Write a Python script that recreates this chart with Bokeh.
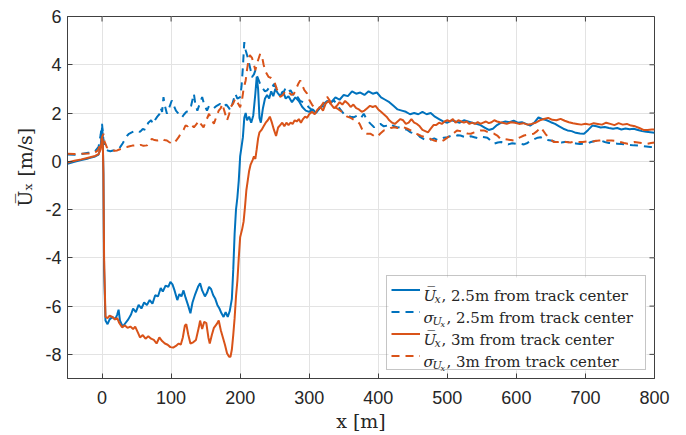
from bokeh.core.properties import value
from bokeh.embed import file_html
from bokeh.models import FixedTicker, Legend, LegendItem, Range1d
from bokeh.plotting import figure
from bokeh.resources import INLINE

# ---------------------------------------------------------------- data
# Mean streamwise velocity, 2.5 m from track center
blue_mean_x = [-50, -40, -30, -20, -10, -5, -2, 0, 1, 2, 3, 5, 8, 11, 15, 19, 22, 24, 26, 30,
               34, 38, 42, 45, 49, 53, 57, 61, 65, 69, 73, 77, 81, 85, 88, 92, 96, 99, 102, 105,
               109, 112, 115, 118, 121, 125, 128, 131, 135, 139, 142, 145, 149, 152, 155, 158, 161, 164, 167, 170,
               173, 176, 179, 182, 185, 188, 190, 192, 194, 196, 198, 200, 202, 204, 206, 208, 210, 213, 216, 219,
               222, 224, 226, 228, 230, 233, 236, 239, 242, 245, 248, 251, 254, 258, 262, 266, 270, 275, 280, 285,
               290, 295, 300, 305, 310, 315, 320, 326, 332, 338, 344, 350, 356, 362, 368, 374, 380, 386, 392, 398,
               404, 410, 416, 422, 428, 434, 440, 446, 452, 458, 464, 470, 476, 482, 488, 494, 500, 506, 512, 518,
               524, 530, 536, 542, 548, 554, 560, 566, 572, 578, 584, 590, 596, 602, 608, 614, 620, 626, 632, 638,
               644, 650, 656, 662, 668, 674, 680, 686, 692, 698, 704, 710, 716, 722, 728, 734, 740, 746, 752, 758,
               764, 770, 776, 782, 788, 794, 800]
blue_mean = [-0.10, -0.02, 0.05, 0.12, 0.20, 0.28, 0.60, 1.40, 1.10, -0.50, -4.50, -6.60, -6.75, -6.55, -6.45, -6.55, -6.35, -6.15, -6.60, -6.85,
             -6.70, -6.55, -6.35, -6.10, -6.25, -5.95, -6.10, -5.85, -5.95, -5.75, -5.90, -5.55, -5.60, -5.25, -5.40, -5.15, -5.20, -5.00, -5.10, -5.35,
             -5.75, -5.50, -5.60, -5.35, -5.65, -6.00, -6.30, -5.85, -5.50, -5.20, -5.05, -5.35, -5.60, -5.45, -5.20, -5.30, -5.55, -5.70, -5.95, -6.10,
             -6.30, -6.45, -6.25, -6.45, -6.20, -5.70, -4.50, -3.00, -2.00, -1.50, -0.80, 0.20, 0.60, 1.00, 1.80, 2.00, 1.70, 1.85, 1.60, 1.90,
             2.80, 3.50, 3.00, 1.80, 1.60, 2.20, 2.60, 2.75, 2.60, 2.90, 2.70, 3.00, 2.85, 2.70, 2.90, 2.60, 2.70, 2.45, 2.65, 2.50,
             2.25, 2.10, 2.05, 2.15, 2.00, 2.20, 2.35, 2.50, 2.45, 2.65, 2.55, 2.75, 2.70, 2.90, 2.80, 2.85, 2.75, 2.90, 2.80, 2.85,
             2.65, 2.55, 2.45, 2.30, 2.15, 2.10, 2.05, 1.95, 2.00, 1.95, 2.05, 1.95, 2.00, 1.85, 1.75, 1.65, 1.60, 1.70, 1.65, 1.60,
             1.70, 1.65, 1.60, 1.55, 1.50, 1.40, 1.30, 1.35, 1.50, 1.60, 1.65, 1.62, 1.68, 1.60, 1.62, 1.55, 1.48, 1.60, 1.82, 1.75,
             1.70, 1.62, 1.55, 1.45, 1.35, 1.28, 1.25, 1.18, 1.15, 1.14, 1.30, 1.48, 1.45, 1.40, 1.42, 1.38, 1.35, 1.38, 1.32, 1.36,
             1.33, 1.35, 1.30, 1.25, 1.22, 1.20, 1.18]

# Standard deviation, 2.5 m from track center
blue_std_x = [-50, -40, -30, -20, -10, -5, -2, 0, 2, 5, 8, 12, 16, 20, 24, 27, 30, 33, 36, 39,
              43, 47, 51, 55, 59, 63, 67, 71, 74, 77, 80, 83, 85, 87, 89, 91, 94, 97, 101, 104,
              107, 110, 113, 116, 119, 122, 126, 129, 131, 133, 135, 138, 141, 145, 148, 152, 155, 158, 162, 166,
              171, 175, 180, 184, 186, 189, 193, 196, 200, 202, 204, 206, 208, 210, 212, 215, 217, 220, 222, 225,
              229, 232, 236, 239, 243, 246, 249, 253, 258, 262, 266, 270, 273, 277, 281, 283, 287, 291, 295, 299,
              303, 307, 311, 315, 319, 323, 327, 332, 336, 340, 345, 350, 355, 360, 365, 370, 375, 379, 384, 389,
              394, 398, 403, 408, 413, 418, 423, 428, 432, 437, 442, 447, 452, 456, 461, 466, 471, 476, 481, 486,
              490, 495, 500, 505, 510, 515, 519, 524, 529, 534, 539, 544, 549, 554, 558, 563, 568, 573, 578, 582,
              588, 594, 600, 606, 611, 616, 621, 626, 631, 635, 640, 645, 650, 655, 660, 665, 670, 674, 680, 686,
              692, 698, 703, 708, 714, 718, 722, 728, 734, 740, 746, 752, 758, 764, 770, 776, 782, 788, 794, 800]
blue_std = [0.28, 0.27, 0.30, 0.35, 0.42, 0.60, 1.10, 1.55, 0.90, 0.50, 0.45, 0.42, 0.45, 0.45, 0.48, 0.62, 0.75, 0.90, 1.05, 1.14,
            1.20, 1.25, 1.28, 1.22, 1.34, 1.30, 1.60, 1.70, 1.55, 1.72, 1.85, 1.95, 2.20, 2.05, 2.66, 2.30, 1.97, 2.20, 2.52, 2.30,
            2.10, 2.00, 1.85, 1.83, 1.95, 2.05, 2.10, 2.30, 2.55, 2.80, 2.40, 2.10, 2.35, 2.66, 2.35, 2.10, 2.30, 2.24, 2.20, 2.30,
            2.38, 2.25, 2.35, 2.20, 2.10, 2.40, 2.80, 2.60, 2.66, 3.10, 3.90, 4.94, 4.60, 4.40, 4.18, 3.80, 3.49, 3.60, 3.77, 3.50,
            3.20, 3.05, 2.90, 2.94, 3.10, 3.05, 3.20, 3.00, 2.94, 2.80, 3.05, 2.90, 2.94, 2.75, 2.60, 2.67, 2.50, 2.45, 2.38, 2.25,
            2.15, 2.10, 2.05, 2.20, 2.30, 2.24, 2.35, 2.45, 2.52, 2.35, 2.15, 1.97, 1.90, 1.85, 1.83, 1.90, 1.80, 1.97, 1.70, 1.55,
            1.41, 1.50, 1.55, 1.45, 1.48, 1.55, 1.45, 1.40, 1.41, 1.35, 1.30, 1.20, 1.15, 1.14, 1.00, 0.92, 0.86, 0.90, 0.95, 0.88,
            0.93, 0.98, 1.00, 1.05, 1.02, 1.08, 1.07, 1.02, 0.98, 1.04, 1.00, 0.96, 1.02, 1.00, 0.98, 0.85, 0.73, 0.78, 0.80, 0.74,
            0.70, 0.75, 0.72, 0.73, 0.70, 0.76, 0.85, 0.92, 0.98, 1.00, 0.92, 0.88, 0.86, 0.82, 0.80, 0.78, 0.80, 0.80, 0.76, 0.74,
            0.72, 0.73, 0.74, 0.80, 0.84, 0.86, 0.86, 0.80, 0.76, 0.74, 0.73, 0.72, 0.70, 0.68, 0.66, 0.65, 0.63, 0.61, 0.59, 0.60]

# Mean streamwise velocity, 3 m from track center
orange_mean_x = [-50, -40, -30, -20, -10, -5, -2, 0, 1, 2, 3, 5, 8, 11, 15, 19, 22, 25, 29, 33,
                 37, 41, 45, 48, 52, 55, 59, 63, 67, 71, 75, 79, 83, 87, 91, 95, 99, 103, 107, 111,
                 114, 117, 120, 122, 125, 128, 132, 136, 140, 142, 145, 148, 151, 154, 156, 159, 162, 166, 169, 172,
                 175, 178, 181, 184, 186, 188, 190, 192, 194, 196, 198, 200, 203, 205, 207, 209, 211, 213, 215, 218,
                 220, 222, 224, 226, 228, 231, 234, 237, 240, 243, 246, 249, 252, 255, 258, 261, 264, 267, 270, 273,
                 276, 279, 282, 285, 288, 291, 294, 297, 300, 304, 308, 312, 316, 320, 324, 328, 332, 336, 340, 344,
                 348, 352, 356, 360, 364, 368, 372, 376, 380, 384, 388, 392, 396, 400, 404, 408, 412, 416, 420, 424,
                 428, 432, 436, 440, 444, 448, 452, 456, 460, 464, 468, 472, 476, 480, 484, 488, 492, 496, 500, 504,
                 508, 512, 516, 520, 524, 528, 532, 536, 540, 544, 548, 552, 556, 560, 564, 568, 572, 576, 580, 586,
                 592, 598, 604, 610, 616, 622, 628, 634, 640, 646, 652, 658, 664, 670, 676, 682, 688, 694, 700, 706,
                 712, 718, 724, 730, 736, 742, 748, 754, 760, 766, 772, 778, 784, 790, 796, 800]
orange_mean = [-0.05, 0.02, 0.08, 0.15, 0.22, 0.30, 0.50, 1.00, 0.90, -0.50, -4.00, -6.45, -6.50, -6.40, -6.45, -6.55, -6.50, -6.70, -6.88, -6.80,
               -6.90, -6.85, -6.95, -6.85, -7.10, -7.30, -7.20, -7.35, -7.25, -7.35, -7.40, -7.55, -7.30, -7.45, -7.55, -7.60, -7.70, -7.72, -7.65, -7.55,
               -7.60, -7.30, -6.80, -6.75, -7.20, -7.55, -7.50, -7.40, -6.90, -6.60, -6.95, -6.65, -6.70, -7.30, -7.55, -7.20, -6.90, -6.75, -6.60, -7.00,
               -7.30, -7.60, -7.95, -8.10, -8.10, -7.80, -7.20, -6.50, -5.60, -4.95, -4.00, -3.15, -2.80, -2.50, -1.90, -1.20, -0.80, -0.40, -0.15, 0.05,
               0.20, 0.10, 0.50, 0.95, 1.20, 1.30, 1.45, 1.60, 1.70, 1.85, 1.60, 1.30, 1.05, 1.40, 1.50, 1.60, 1.45, 1.60, 1.50, 1.60,
               1.55, 1.70, 1.65, 1.75, 1.60, 1.75, 1.85, 1.80, 1.95, 2.05, 1.95, 2.15, 2.25, 2.10, 2.40, 2.50, 2.35, 2.20, 2.30, 2.45,
               2.35, 2.50, 2.40, 2.25, 2.35, 2.20, 2.15, 2.05, 2.10, 2.20, 2.30, 2.25, 2.30, 2.15, 2.05, 1.95, 1.85, 1.70, 1.60, 1.55,
               1.65, 1.75, 1.70, 1.55, 1.60, 1.75, 1.60, 1.55, 1.45, 1.30, 1.25, 1.20, 1.35, 1.50, 1.50, 1.60, 1.55, 1.65, 1.70, 1.65,
               1.75, 1.60, 1.70, 1.65, 1.60, 1.65, 1.55, 1.60, 1.55, 1.62, 1.55, 1.60, 1.65, 1.58, 1.62, 1.70, 1.65, 1.62, 1.60, 1.55,
               1.62, 1.60, 1.55, 1.58, 1.52, 1.55, 1.60, 1.70, 1.75, 1.80, 1.72, 1.70, 1.76, 1.68, 1.62, 1.58, 1.55, 1.52, 1.56, 1.52,
               1.58, 1.55, 1.52, 1.60, 1.55, 1.50, 1.58, 1.52, 1.55, 1.48, 1.45, 1.38, 1.30, 1.30, 1.32, 1.32]

# Standard deviation, 3 m from track center
orange_std_x = [-50, -40, -30, -20, -12, -6, -2, 0, 2, 4, 7, 10, 14, 18, 22, 26, 30, 33, 36, 40,
                44, 48, 52, 56, 60, 65, 68, 72, 76, 80, 84, 87, 90, 94, 97, 100, 104, 107, 111, 114,
                118, 121, 124, 128, 130, 133, 137, 140, 143, 147, 151, 155, 158, 162, 165, 169, 172, 174, 177, 181,
                184, 186, 190, 193, 196, 200, 203, 205, 208, 210, 212, 214, 217, 220, 222, 225, 229, 232, 234, 237,
                241, 245, 249, 253, 256, 258, 262, 265, 268, 271, 274, 278, 281, 284, 287, 290, 293, 297, 300, 304,
                307, 311, 316, 320, 323, 326, 329, 333, 336, 340, 345, 350, 355, 360, 365, 369, 373, 377, 379, 384,
                389, 394, 398, 403, 408, 413, 418, 423, 428, 433, 437, 442, 447, 452, 457, 462, 466, 471, 476, 481,
                486, 490, 495, 500, 505, 510, 514, 519, 524, 529, 534, 539, 544, 548, 553, 558, 563, 568, 573, 577,
                582, 587, 592, 597, 602, 606, 611, 616, 620, 625, 630, 635, 638, 642, 646, 650, 654, 660, 666, 672,
                678, 684, 690, 696, 702, 708, 714, 720, 726, 732, 738, 744, 750, 756, 761, 766, 771, 776, 781, 786,
                790, 795, 800]
orange_std = [0.31, 0.30, 0.31, 0.32, 0.33, 0.45, 0.73, 1.00, 1.14, 0.80, 0.58, 0.52, 0.48, 0.44, 0.45, 0.50, 0.55, 0.58, 0.59, 0.62,
              0.65, 0.66, 0.63, 0.68, 0.64, 0.66, 0.80, 0.93, 0.88, 0.86, 0.90, 0.93, 0.88, 0.86, 0.80, 0.75, 0.73, 0.85, 1.00, 1.15,
              1.30, 1.49, 1.45, 1.56, 1.50, 1.41, 1.55, 1.69, 1.55, 1.41, 1.70, 1.97, 1.75, 1.56, 1.80, 2.10, 2.20, 2.38, 2.10, 1.69,
              1.95, 2.24, 2.40, 2.60, 2.45, 2.24, 2.60, 3.00, 3.35, 3.80, 4.18, 4.40, 4.30, 4.00, 3.77, 4.10, 4.46, 4.30, 4.00, 3.70,
              3.50, 3.45, 3.35, 3.00, 2.80, 2.67, 2.75, 2.90, 2.94, 2.85, 2.75, 2.80, 3.00, 3.20, 3.35, 3.15, 2.95, 2.80, 2.55, 2.35,
              2.24, 2.20, 2.24, 2.40, 2.55, 2.67, 2.55, 2.35, 2.24, 2.20, 2.10, 1.97, 1.85, 1.80, 1.72, 1.69, 1.55, 1.30, 1.21, 1.14,
              1.14, 1.05, 1.00, 1.15, 1.28, 1.30, 1.38, 1.41, 1.38, 1.40, 1.41, 1.35, 1.28, 1.20, 1.12, 1.05, 1.02, 1.00, 0.92, 0.86,
              0.82, 0.80, 0.88, 0.98, 1.07, 1.18, 1.28, 1.25, 1.20, 1.15, 1.14, 1.20, 1.25, 1.28, 1.28, 1.22, 1.18, 1.14, 1.05, 0.93,
              0.92, 0.90, 0.88, 0.86, 0.95, 1.00, 1.07, 1.10, 1.12, 1.14, 1.25, 1.41, 1.30, 1.14, 1.00, 0.90, 0.80, 0.80, 0.82, 0.80,
              0.78, 0.82, 0.80, 0.80, 0.82, 0.80, 0.84, 0.86, 0.88, 0.86, 0.86, 0.84, 0.80, 0.76, 0.73, 0.76, 0.80, 0.78, 0.76, 0.74,
              0.73, 0.76, 0.78]

x_ticks = [0, 100, 200, 300, 400, 500, 600, 700, 800]
y_ticks = [-8, -6, -4, -2, 0, 2, 4, 6]

legend_symbol = ["U\u0305", "\u03c3", "U\u0305", "\u03c3"]
legend_sub = ["x", "U", "x", "U"]
legend_rest = [", 2.5m from track center", ", 2.5m from track center",
               ", 3m from track center", ", 3m from track center"]

# ---------------------------------------------------------------- styling
BLUE = "#0072BD"
ORANGE = "#D95319"
AX = "#404040"
TXT = "#262626"
SERIF = "DejaVu Serif"
SANS = "Liberation Sans"

X0, X1, Y0, Y1 = -50, 800, -9, 6
W, H = 686, 435
L, R, T, B = 67, 32, 16, 57          # frame borders in px
FW, FH = W - L - R, H - T - B
PX_X = (X1 - X0) / FW                # data units per pixel
PX_Y = (Y1 - Y0) / FH


def sx(px):
    """canvas px (x) -> data x"""
    return X0 + (px - L) * PX_X


def sy(py):
    """canvas px (y, from top) -> data y"""
    return Y1 - (py - T) * PX_Y


p = figure(width=W, height=H, x_range=Range1d(X0, X1), y_range=Range1d(Y0, Y1),
           output_backend="svg", toolbar_location=None,
           min_border_left=L, min_border_right=R, min_border_top=T, min_border_bottom=B)
p.background_fill_color = "white"
p.border_fill_color = "white"
p.outline_line_color = AX
p.outline_line_width = 1

for ax, ticks in ((p.xaxis[0], x_ticks), (p.yaxis[0], y_ticks)):
    ax.ticker = FixedTicker(ticks=ticks)
    ax.axis_line_color = AX
    ax.major_tick_line_color = AX
    ax.major_tick_in = 5
    ax.major_tick_out = 0
    ax.minor_tick_line_color = None
    ax.major_label_text_font = SANS
    ax.major_label_text_font_size = "18px"
    ax.major_label_text_color = TXT

# plain hyphen for negative tick labels
p.yaxis.major_label_overrides = {t: f"{t:d}" for t in y_ticks}
p.xaxis.major_label_standoff = 12
p.yaxis.major_label_standoff = 6

p.xaxis.axis_label = "x [m]"
p.xaxis.axis_label_text_font = SERIF
p.xaxis.axis_label_text_font_style = "normal"
p.xaxis.axis_label_text_font_size = "19px"
p.xaxis.axis_label_text_color = TXT
p.xaxis.axis_label_standoff = 3

p.yaxis.axis_label = "\u00a0" * 10 + "U\u0305\u2093 [m/s]"
p.yaxis.axis_label_text_font = SERIF
p.yaxis.axis_label_text_font_style = "normal"
p.yaxis.axis_label_text_font_size = "19px"
p.yaxis.axis_label_text_color = TXT
p.yaxis.axis_label_standoff = 6

p.xgrid.ticker = FixedTicker(ticks=x_ticks)
p.ygrid.ticker = FixedTicker(ticks=y_ticks)
p.grid.grid_line_color = "#e3e3e3"
p.grid.grid_line_width = 1

# inward ticks on the top and right edges of the box
tick_len = 5
p.segment(x0=x_ticks, x1=x_ticks, y0=[Y1] * len(x_ticks),
          y1=[Y1 - tick_len * PX_Y] * len(x_ticks), line_color=AX, line_width=1)
p.segment(x0=[X1] * len(y_ticks), x1=[X1 - tick_len * PX_X] * len(y_ticks),
          y0=y_ticks, y1=y_ticks, line_color=AX, line_width=1)

# white backing of the legend box (hides the grid behind the legend)
LEG_L, LEG_R, LEG_T, LEG_B = 388, 646, 277, 370
p.quad(left=[sx(LEG_L)], right=[sx(LEG_R)], top=[sy(LEG_T)], bottom=[sy(LEG_B)],
       fill_color="white", line_color=None)

# ---------------------------------------------------------------- series
r1 = p.line(blue_mean_x, blue_mean, line_color=BLUE, line_width=2)
r2 = p.line(blue_std_x, blue_std, line_color=BLUE, line_width=2, line_dash="8 6")
r3 = p.line(orange_mean_x, orange_mean, line_color=ORANGE, line_width=2)
r4 = p.line(orange_std_x, orange_std, line_color=ORANGE, line_width=2, line_dash="8 6")

legend = Legend(items=[LegendItem(label=" ", renderers=[r]) for r in (r1, r2, r3, r4)],
                location="bottom_right", margin=8, padding=4, spacing=3,
                glyph_width=29, glyph_height=19, label_width=219, label_height=19,
                label_standoff=2, label_text_font_size="10px",
                border_line_color="#8c8c8c", border_line_width=1,
                background_fill_alpha=0)
p.add_layout(legend)

# legend texts (symbol, subscripts, description)
row_base = [295.5, 317.5, 339.5, 361.5]
x_txt = 423
sub_x = [x_txt + 11 if s == "x" else x_txt + 9 for s in legend_sub]
subsub_rows = [i for i, s in enumerate(legend_sub) if s == "U"]
rest_x = [x_txt + 18 if s == "x" else x_txt + 23 for s in legend_sub]

text_style = dict(text_font=value(SERIF), text_color=TXT, text_baseline="alphabetic",
                  text_align="left")
p.text(x=[sx(x_txt)] * 4, y=[sy(b) for b in row_base], text=legend_symbol,
       text_font_size="15px", text_font_style="italic", **text_style)
p.text(x=[sx(v) for v in sub_x], y=[sy(b + 3) for b in row_base], text=legend_sub,
       text_font_size="11px", text_font_style="italic", **text_style)
p.text(x=[sx(x_txt + 17)] * len(subsub_rows), y=[sy(row_base[i] + 6) for i in subsub_rows],
       text=["x"] * len(subsub_rows), text_font_size="8px", text_font_style="italic",
       **text_style)
p.text(x=[sx(v) for v in rest_x], y=[sy(b) for b in row_base], text=legend_rest,
       text_font_size="15px", **text_style)

open("out.html", "w").write(file_html(p, INLINE))
